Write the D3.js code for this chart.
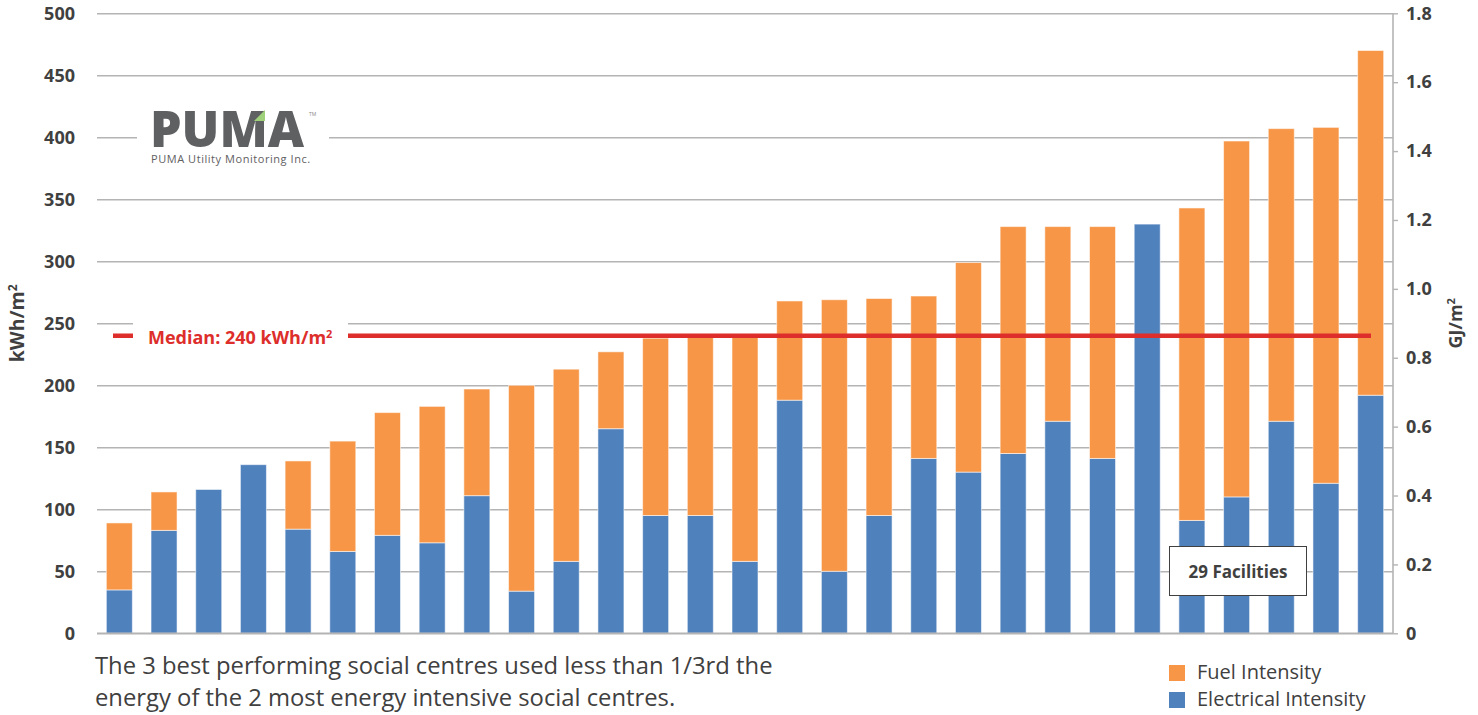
<!DOCTYPE html>
<html>
<head>
<meta charset="utf-8">
<script src="https://cdn.jsdelivr.net/npm/d3@7/dist/d3.min.js"></script>
<style>
  html, body { margin: 0; padding: 0; background: #fff; }
  svg { display: block; }
  text { font-family: "Open Sans", "Noto Sans", sans-serif; }
</style>
</head>
<body>
<svg id="chart" width="1478" height="715"></svg>
<script>
// Facilities, sorted by total energy use intensity (kWh/m²)
const facilities = d3.range(1, 30).map(i => "Facility " + i);
const electricalIntensity = [35, 83, 116, 136, 84, 66, 79, 73, 111, 34, 58, 165, 95, 95, 58,
  188, 50, 95, 141, 130, 145, 171, 141, 330, 91, 110, 171, 121, 192];
const fuelIntensity = [54, 31, 0, 0, 55, 89, 99, 110, 86, 166, 155, 62, 143, 146, 183,
  80, 219, 175, 131, 169, 183, 157, 187, 0, 252, 287, 236, 287, 278];
const medianValue = 240;

const kwhTicks = [0, 50, 100, 150, 200, 250, 300, 350, 400, 450, 500];
const gjTicks = [0, 0.2, 0.4, 0.6, 0.8, 1.0, 1.2, 1.4, 1.6, 1.8];
const gjTickLabels = ["0", "0.2", "0.4", "0.6", "0.8", "1.0", "1.2", "1.4", "1.6", "1.8"];

const seriesNames = ["Electrical Intensity", "Fuel Intensity"];
const seriesColors = { "Electrical Intensity": "#4f81bd", "Fuel Intensity": "#f79646" };

const captionLines = [
  "The 3 best performing social centres used less than 1/3rd the",
  "energy of the 2 most energy intensive social centres."
];

// ---- layout ----
const plot = { left: 97, right: 1393, top: 13.3, bottom: 633.3 };
const svg = d3.select("#chart");
const textColor = "#404040";
const gridColor = "#b4b4b4";

const x = d3.scaleBand().domain(facilities).range([plot.left, plot.right]).paddingInner(0.418).paddingOuter(0.209);
const y = d3.scaleLinear().domain([0, 500]).range([plot.bottom, plot.top]);
const y2 = d3.scaleLinear().domain([0, 1.8]).range([plot.bottom, plot.top]);

// gridlines + left axis labels
const leftAxis = d3.axisLeft(y).tickValues(kwhTicks).tickSize(-(plot.right - plot.left)).tickPadding(22).tickFormat(d3.format("d"));
const gL = svg.append("g").attr("transform", `translate(${plot.left},0)`).call(leftAxis);
gL.select(".domain").remove();
gL.selectAll(".tick line").attr("stroke", gridColor).attr("stroke-width", 1.6);
gL.selectAll(".tick text").attr("fill", textColor).attr("font-size", 18).attr("font-weight", 700);

// right axis (GJ/m²)
const rightAxis = d3.axisRight(y2).tickValues(gjTicks).tickSize(5).tickPadding(8)
  .tickFormat((d, i) => gjTickLabels[i]);
const gR = svg.append("g").attr("transform", `translate(${plot.right},0)`).call(rightAxis);
gR.select(".domain").attr("stroke", gridColor).attr("stroke-width", 1.6).attr("d", `M0,${plot.top}V${plot.bottom}`);
gR.selectAll(".tick line").attr("stroke", gridColor).attr("stroke-width", 1.4);
gR.selectAll(".tick text").attr("fill", textColor).attr("font-size", 18).attr("font-weight", 700);

// stacked bars
const rows = facilities.map((f, i) => ({
  facility: f,
  "Electrical Intensity": electricalIntensity[i],
  "Fuel Intensity": fuelIntensity[i]
}));
const stack = d3.stack().keys(seriesNames)(rows);
svg.append("g").selectAll("g").data(stack).join("g")
  .attr("fill", d => seriesColors[d.key])
  .selectAll("rect").data(d => d.filter(s => s[1] > s[0])).join("rect")
  .attr("x", d => x(d.data.facility))
  .attr("width", x.bandwidth())
  .attr("y", d => y(d[1]))
  .attr("height", d => y(d[0]) - y(d[1]))
  .attr("stroke", "rgba(255,255,255,0.55)")
  .attr("stroke-width", 1);

// baseline
svg.append("line").attr("x1", plot.left).attr("x2", plot.right)
  .attr("y1", y(0)).attr("y2", y(0)).attr("stroke", gridColor).attr("stroke-width", 1.6);

// median line with its label
const medY = y(medianValue);
svg.append("line").attr("x1", 113).attr("x2", 1371).attr("y1", medY).attr("y2", medY)
  .attr("stroke", "#dd2e2b").attr("stroke-width", 4.5);
svg.append("rect").attr("x", 133).attr("y", medY - 14).attr("width", 215).attr("height", 30).attr("fill", "#fff");
const medLabel = svg.append("text").attr("x", 148).attr("y", medY + 8)
  .attr("fill", "#dd2e2b").attr("font-size", 18).attr("font-weight", 700);
medLabel.append("tspan").text(`Median: ${medianValue} kWh/m`);
medLabel.append("tspan").attr("dy", -6).attr("font-size", 11).text("2");

// axis titles
const titleL = svg.append("text").attr("transform", `translate(24,${(plot.top + plot.bottom) / 2}) rotate(-90)`)
  .attr("text-anchor", "middle").attr("fill", textColor).attr("font-size", 19.5).attr("font-weight", 700);
titleL.append("tspan").text("kWh/m");
titleL.append("tspan").attr("dy", -7).attr("font-size", 12).text("2");
const titleR = svg.append("text").attr("transform", `translate(1462,${(plot.top + plot.bottom) / 2}) rotate(-90)`)
  .attr("text-anchor", "middle").attr("fill", textColor).attr("font-size", 18).attr("font-weight", 700);
titleR.append("tspan").text("GJ/m");
titleR.append("tspan").attr("dy", -7).attr("font-size", 11).text("2");

// logo
const logo = svg.append("g");
logo.append("rect").attr("x", 137).attr("y", 100).attr("width", 192).attr("height", 70).attr("fill", "#fff");
logo.append("text").attr("x", 150).attr("y", 147).attr("fill", "#5f6062")
  .attr("font-size", 50).attr("font-weight", 800).attr("letter-spacing", 0).text("PUMA");
logo.append("text").attr("x", 309).attr("y", 116).attr("fill", "#8a8a8a").attr("font-size", 5).text("TM");
logo.append("text").attr("x", 151).attr("y", 163).attr("fill", "#5f6062")
  .attr("font-size", 11).attr("letter-spacing", 0.55).text("PUMA Utility Monitoring Inc.");
logo.append("path").attr("d", "M254,121 L265,110 L265,121 Z").attr("fill", "#9fd07a");

// "29 Facilities" note
svg.append("rect").attr("x", 1169.5).attr("y", 546.5).attr("width", 137).attr("height", 49)
  .attr("fill", "#fff").attr("stroke", "#404040").attr("stroke-width", 1);
svg.append("text").attr("x", 1238).attr("y", 578).attr("text-anchor", "middle")
  .attr("fill", textColor).attr("font-size", 17).attr("font-weight", 700).text(facilities.length + " Facilities");

// caption
svg.append("g").selectAll("text").data(captionLines).join("text")
  .attr("x", 95).attr("y", (d, i) => 674 + i * 32)
  .attr("fill", textColor).attr("font-size", 23.8).text(d => d);

// legend
const legendItems = ["Fuel Intensity", "Electrical Intensity"];
const lg = svg.append("g").selectAll("g").data(legendItems).join("g")
  .attr("transform", (d, i) => `translate(1169,${665 + i * 27})`);
lg.append("rect").attr("width", 16).attr("height", 16).attr("fill", d => seriesColors[d]);
lg.append("text").attr("x", 28).attr("y", 14).attr("fill", textColor).attr("font-size", 20).text(d => d);
</script>
</body>
</html>
